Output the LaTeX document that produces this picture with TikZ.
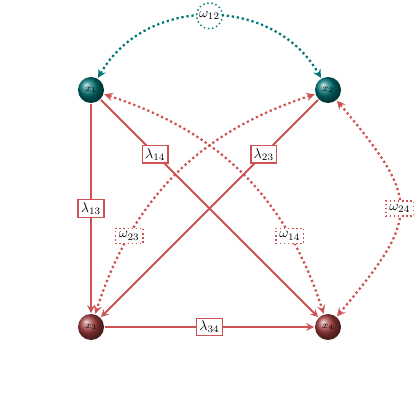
\documentclass[tikz,border=0pt]{standalone}
\definecolor{edgered}{RGB}{205,82,82}
\definecolor{nodered}{RGB}{165,62,62}
\definecolor{nodeteal}{RGB}{0,118,118}
\begin{document}
\begin{tikzpicture}[>=stealth, line width=1.4pt,
		sphere/.style={circle, shading=ball, ball color=#1, minimum size=18.5pt, inner sep=0pt, font=\scriptsize, text=black},
		rate/.style={rectangle, draw=edgered, fill=white, solid, line width=1pt, inner sep=2pt},
		corr/.style={rectangle, draw=edgered, fill=white, dotted, line width=0.9pt, inner sep=2.5pt},
		flow/.style={->, draw=edgered, line width=1.4pt},
		link/.style={<->, draw=edgered, dotted, line width=1.6pt}]
				% 1. 画布范围
				\useasboundingbox (0,0) rectangle (10.5,10.5);
				
				% 2. 四个状态节点
				\node[sphere=nodeteal] (x1) at (2.275,8.25) {$x_1$};
				\node[sphere=nodeteal] (x2) at (8.2,8.25) {$x_2$};
				\node[sphere=nodered] (x3) at (2.275,2.325) {$x_3$};
				\node[sphere=nodered] (x4) at (8.2,2.325) {$x_4$};
				
				% 3. 相关 (点线, 双向箭头)
				\draw[<->, draw=nodeteal, dotted, line width=1.6pt] (x1) to[bend left=60, looseness=1.1]
					node[circle, draw=nodeteal, fill=white, dotted, line width=1pt, inner sep=1pt, minimum size=18pt] (w12) {$\omega_{12}$} (x2);
				\draw[link] (x1) to[bend left=27] node[corr, pos=0.75] (w14) {$\omega_{14}$} (x4);
				\draw[link] (x2) to[bend right=27] node[corr, pos=0.75] (w23) {$\omega_{23}$} (x3);
				\draw[link] (x2) to[bend left=40, looseness=1.55] node[corr] (w24) {$\omega_{24}$} (x4);
				
				% 4. 转移强度 (实线)
				\draw[flow] (x1) -- node[rate] (l13) {$\lambda_{13}$} (x3);
				\draw[flow] (x1) -- node[rate, pos=0.25] (l14) {$\lambda_{14}$} (x4);
				\draw[flow] (x2) -- node[rate, pos=0.25] (l23) {$\lambda_{23}$} (x3);
				\draw[flow] (x3) -- node[rate] (l34) {$\lambda_{34}$} (x4);
			\end{tikzpicture}
\end{document}
